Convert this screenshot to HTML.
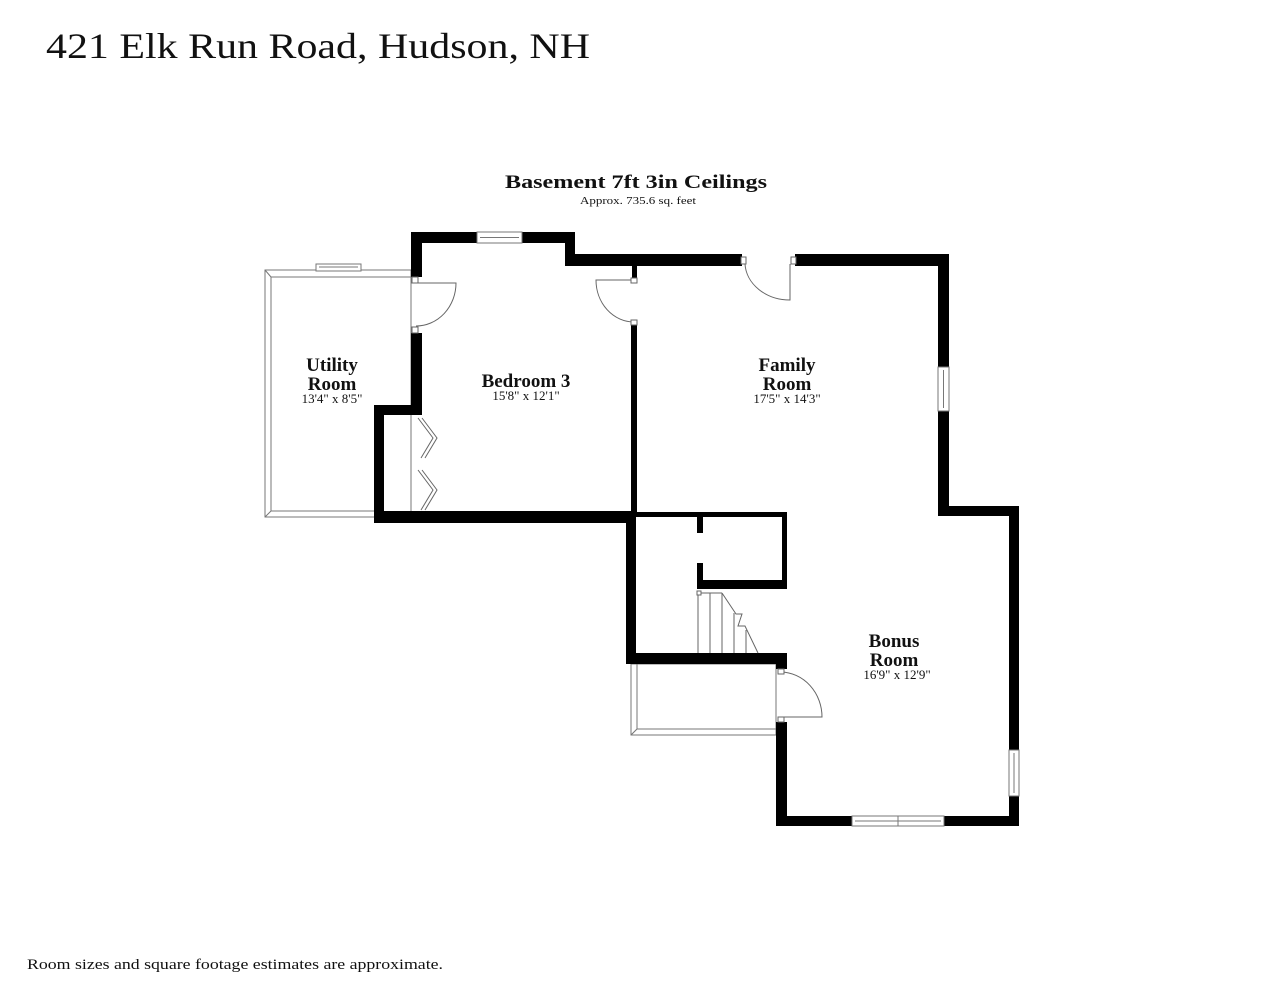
<!DOCTYPE html>
<html><head><meta charset="utf-8"><style>
html,body{margin:0;padding:0;background:#fff;}
svg{display:block;}
text{font-family:"Liberation Serif",serif;fill:#111;}
</style></head><body>
<svg width="1280" height="989" viewBox="0 0 1280 989" xmlns="http://www.w3.org/2000/svg">
<rect width="1280" height="989" fill="#fff"/>
<text x="46" y="58" font-size="36" textLength="544" lengthAdjust="spacingAndGlyphs">421 Elk Run Road, Hudson, NH</text>
<text x="636" y="188" font-size="19" font-weight="bold" text-anchor="middle" textLength="262" lengthAdjust="spacingAndGlyphs">Basement 7ft 3in Ceilings</text>
<text x="638" y="204" font-size="11" text-anchor="middle" textLength="116" lengthAdjust="spacingAndGlyphs">Approx. 735.6 sq. feet</text>
<text x="27" y="969" font-size="15" textLength="416" lengthAdjust="spacingAndGlyphs">Room sizes and square footage estimates are approximate.</text>

<!-- thin outlines -->
<g fill="none" stroke="#777" stroke-width="1">
<rect x="265" y="270" width="146" height="247"/>
<polyline points="411,277 271,277 271,511 374,511"/>
<line x1="265" y1="270" x2="271" y2="277"/><line x1="265" y1="517" x2="271" y2="511"/>
<rect x="631" y="664" width="145" height="71"/>
<polyline points="637,664 637,729 776,729"/>
<line x1="631" y1="735" x2="637" y2="729"/>
</g>

<!-- walls -->
<g fill="#000">
<rect x="411" y="232" width="11" height="45"/>
<rect x="411" y="232" width="164" height="11"/>
<rect x="565" y="232" width="10" height="34"/>
<rect x="565" y="254" width="177" height="12"/>
<rect x="632" y="266" width="5" height="12"/>
<rect x="795" y="254" width="154" height="12"/>
<rect x="938" y="254" width="11" height="262"/>
<rect x="938" y="506" width="81" height="10"/>
<rect x="1009" y="506" width="10" height="320"/>
<rect x="776" y="816" width="243" height="10"/>
<rect x="776" y="722" width="11" height="104"/>
<rect x="631" y="325" width="6" height="191"/>
<rect x="374" y="511" width="262" height="12"/>
<rect x="374" y="405" width="10" height="118"/>
<rect x="374" y="405" width="48" height="10"/>
<rect x="411" y="333" width="11" height="82"/>
<rect x="626" y="512" width="10" height="152"/>
<rect x="626" y="512" width="161" height="5"/>
<rect x="782" y="512" width="5" height="77"/>
<rect x="697" y="580" width="90" height="9"/>
<rect x="697" y="512" width="6" height="21"/>
<rect x="697" y="563" width="6" height="26"/>
<rect x="626" y="653" width="161" height="11"/>
<rect x="776" y="664" width="11" height="5"/>
</g>

<!-- windows -->
<g fill="#fff" stroke="#777" stroke-width="1">
<rect x="477" y="232" width="45" height="11"/><line x1="480" y1="237.5" x2="519" y2="237.5"/>
<rect x="316" y="264" width="45" height="7"/><line x1="319" y1="267" x2="358" y2="267"/>
<rect x="938" y="367" width="11" height="44"/><line x1="943.5" y1="370" x2="943.5" y2="408"/>
<rect x="1009" y="750" width="10" height="46"/><line x1="1014" y1="753" x2="1014" y2="793"/>
<rect x="852" y="816" width="46" height="10"/><rect x="898" y="816" width="46" height="10"/>
<line x1="855" y1="821" x2="941" y2="821"/>
</g>

<!-- doors -->
<g fill="none" stroke="#666" stroke-width="1">
<path d="M416,283 L456,283 A40,43 0 0 1 416,326"/>
<path d="M634,280 L596,280 A38,42 0 0 0 634,322"/>
<path d="M745,264 L745,264 A45,38 0 0 0 790,300 L790,264"/>
<path d="M781,672 A42,45 0 0 1 822,717 L781,717"/>
<polyline points="418,418 433,438 421,458"/>
<polyline points="422,418 437,438 425,458"/>
<polyline points="418,470 433,490 421,510"/>
<polyline points="422,470 437,490 425,510"/>
<!-- stairs -->
<line x1="698" y1="593" x2="722" y2="593"/>
<line x1="698" y1="593" x2="698" y2="653"/>
<line x1="710" y1="593" x2="710" y2="653"/>
<line x1="722" y1="593" x2="722" y2="653"/>
<line x1="734" y1="613" x2="734" y2="653"/>
<line x1="746" y1="630" x2="746" y2="653"/>
<polyline points="722,593 736,614 742,614 738,626 745,626 758,653"/>
</g>
<g fill="#fff" stroke="#666" stroke-width="1">
<rect x="412" y="277" width="6" height="6"/><rect x="412" y="327" width="6" height="6"/>
<rect x="631" y="278" width="6" height="5"/><rect x="631" y="320" width="6" height="5"/>
<rect x="741" y="257" width="5" height="7"/><rect x="791" y="257" width="5" height="7"/>
<rect x="778" y="669" width="6" height="5"/><rect x="778" y="717" width="6" height="5"/>
<rect x="697" y="591" width="4" height="4"/>
</g>

<!-- labels -->
<g text-anchor="middle">
<text x="332" y="371" font-size="19" font-weight="bold">Utility</text>
<text x="332" y="390" font-size="19" font-weight="bold">Room</text>
<text x="332" y="403" font-size="13">13'4" x 8'5"</text>
<text x="526" y="387" font-size="19" font-weight="bold">Bedroom 3</text>
<text x="526" y="400" font-size="13">15'8" x 12'1"</text>
<text x="787" y="371" font-size="19" font-weight="bold">Family</text>
<text x="787" y="390" font-size="19" font-weight="bold">Room</text>
<text x="787" y="403" font-size="13">17'5" x 14'3"</text>
<text x="894" y="647" font-size="19" font-weight="bold">Bonus</text>
<text x="894" y="666" font-size="19" font-weight="bold">Room</text>
<text x="897" y="679" font-size="13">16'9" x 12'9"</text>
</g>
</svg>
</body></html>
